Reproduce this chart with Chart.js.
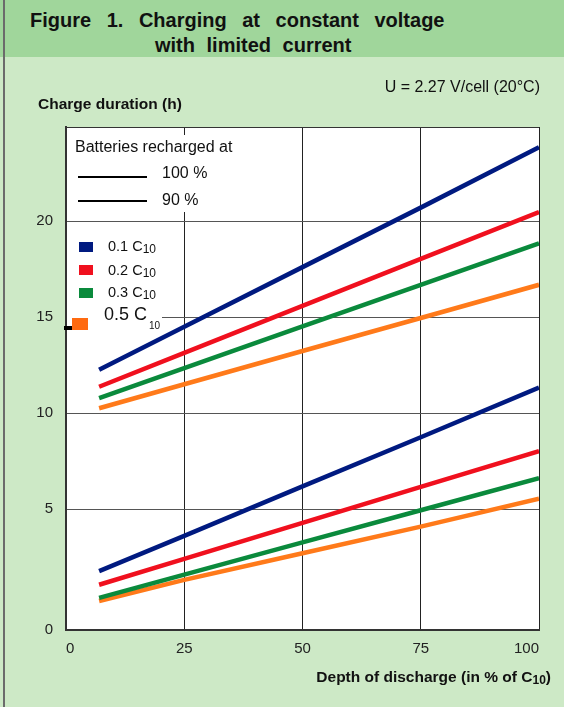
<!doctype html>
<html lang="en">
<head>
  <meta charset="utf-8">
  <title>Figure 1. Charging at constant voltage with limited current</title>
  <style>
* {
  margin: 0;
  padding: 0;
  font-family: "Liberation Sans", Arial, sans-serif;
  color: #111;
}
body {
  width: 564px;
  height: 707px;
  position: relative;
  overflow: hidden;
  background: #cde9c6;
}
.band {
  position: absolute;
  left: 0; top: 0;
  width: 564px; height: 57px;
  background: #a0d69b;
}
.edge {
  position: absolute;
  left: 3px; top: 0;
  width: 2px; height: 707px;
  background: #6b6b6b;
  z-index: 3;
}
.title {
  position: absolute;
  font-weight: bold;
  font-size: 20px;
  white-space: pre;
  line-height: 24px;
}
canvas {
  position: absolute;
  left: 0; top: 0;
}
.txt {
  position: absolute;
  white-space: pre;
  z-index: 2;
}
.white {
  position: absolute;
  background: #fff;
  z-index: 1;
}
.swatch {
  position: absolute;
  z-index: 2;
}
.rule {
  position: absolute;
  height: 2px;
  background: #000;
  z-index: 2;
}
.sub {
  font-size: 12px;
  position: relative;
  top: 2px;
}
  </style>
</head>
<body>
  <div class="band"></div>
  <div class="edge"></div>
  <div class="title" style="left:30px; top:8px; word-spacing:10px;">Figure 1. Charging at constant voltage</div>
  <div class="title" style="left:155px; top:33px; word-spacing:6px;">with limited current</div>

  <div class="txt" style="right:24px; top:78px; font-size:16px;">U = 2.27 V/cell (20°C)</div>
  <div class="txt" style="left:38px; top:95px; font-size:15.5px; font-weight:bold;">Charge duration (h)</div>

  <canvas id="myChart" width="564" height="707"></canvas>

  <!-- legend: line style -->
  <div class="white" style="left:68px; top:135px; width:180px; height:77px;"></div>
  <div class="txt" style="left:75px; top:138px; font-size:16px;">Batteries recharged at</div>
  <div class="rule" style="left:78px; top:176px; width:69px;"></div>
  <div class="txt" style="left:162px; top:164px; font-size:16px;">100 %</div>
  <div class="rule" style="left:78px; top:200px; width:69px;"></div>
  <div class="txt" style="left:162px; top:191px; font-size:16px;">90 %</div>

  <!-- legend: charge current -->
  <div class="swatch" style="left:79px; top:242px; width:14px; height:10px; background:#001a80;"></div>
  <div class="txt" style="left:108px; top:238px; font-size:14.5px;">0.1 C<span class="sub">10</span></div>
  <div class="swatch" style="left:79px; top:265px; width:14px; height:10px; background:#f0101e;"></div>
  <div class="txt" style="left:108px; top:262px; font-size:14.5px;">0.2 C<span class="sub">10</span></div>
  <div class="swatch" style="left:79px; top:288px; width:14px; height:10px; background:#0a8a3c;"></div>
  <div class="txt" style="left:108px; top:284px; font-size:14.5px;">0.3 C<span class="sub">10</span></div>
  <div class="white" style="left:67px; top:312px; width:95px; height:16px;"></div>
  <div class="txt" style="left:104px; top:304px; font-size:18px;">0.5 C</div>
  <div class="txt" style="left:149px; top:320px; font-size:10px;">10</div>
  <div class="swatch" style="left:72px; top:318px; width:16px; height:12px; background:#ff6a10;"></div>
  <div class="swatch" style="left:64px; top:326px; width:8px; height:4px; background:#000;"></div>

  <div class="txt" style="right:13px; top:668px; font-size:15.5px; font-weight:bold;">Depth of discharge (in % of C<span class="sub">10</span>)</div>

  <script src="https://cdn.jsdelivr.net/npm/chart.js"></script>
  <script>
    // depth of discharge (% of C10) where the curves are read
    const depthOfDischarge = [7, 25, 50, 75, 100];

    // charge duration (h), batteries recharged at 100 %
    const rate01At100 = [12.25, 14.5, 17.6, 20.7, 23.85];
    const rate02At100 = [11.37, 13.13, 15.58, 18.03, 20.47];
    const rate03At100 = [10.78, 12.34, 14.51, 16.67, 18.84];
    const rate05At100 = [10.25, 11.5, 13.23, 14.95, 16.68];

    // charge duration (h), batteries recharged at 90 %
    const rate01At90 = [2.43, 3.89, 6.18, 8.74, 11.32];
    const rate02At90 = [1.87, 2.94, 4.43, 6.15, 8.02];
    const rate03At90 = [1.33, 2.29, 3.62, 4.95, 6.61];
    const rate05At90 = [1.2, 2.07, 3.17, 4.27, 5.54];

    // tick labels
    const xTicks = [0, 25, 50, 75, 100];
    const yTicks = [0, 5, 10, 15, 20];

    // the original figure draws the 0-5 h band taller than the others
    const Y_SPLIT = 5;
    const Y_SPLIT_FRACTION = 121 / 503;

    class SplitLinearScale extends Chart.LinearScale {
      toDecimal(value) {
        if (value <= Y_SPLIT) {
          return (value - this.min) / (Y_SPLIT - this.min) * Y_SPLIT_FRACTION;
        }
        return Y_SPLIT_FRACTION + (value - Y_SPLIT) / (this.max - Y_SPLIT) * (1 - Y_SPLIT_FRACTION);
      }
      getPixelForValue(value) {
        return value === null ? NaN : this.getPixelForDecimal(this.toDecimal(value));
      }
      getValueForPixel(pixel) {
        const d = this.getDecimalForPixel(pixel);
        if (d <= Y_SPLIT_FRACTION) {
          return this.min + d / Y_SPLIT_FRACTION * (Y_SPLIT - this.min);
        }
        return Y_SPLIT + (d - Y_SPLIT_FRACTION) / (1 - Y_SPLIT_FRACTION) * (this.max - Y_SPLIT);
      }
    }
    SplitLinearScale.id = 'splitLinear';
    SplitLinearScale.defaults = Chart.LinearScale.defaults;
    Chart.register(SplitLinearScale);

    const colors = { c01: '#001a80', c02: '#f0101e', c03: '#0a8a3c', c05: '#ff7a1a' };

    function series(label, values, color) {
      return {
        label: label,
        data: depthOfDischarge.map((x, i) => ({ x: x, y: values[i] })),
        borderColor: color,
        backgroundColor: color,
        borderWidth: 4.5,
        pointRadius: 0,
        tension: 0,
        fill: false
      };
    }

    // white plot area and the thin frame on top
    const plotFrame = {
      id: 'plotFrame',
      beforeDraw(chart) {
        const { ctx, chartArea: a } = chart;
        ctx.save();
        ctx.fillStyle = '#fff';
        ctx.fillRect(a.left, a.top, a.right - a.left, a.bottom - a.top);
        ctx.restore();
      },
      afterDraw(chart) {
        const { ctx, chartArea: a } = chart;
        ctx.save();
        ctx.strokeStyle = '#333';
        ctx.lineWidth = 1;
        ctx.beginPath();
        ctx.moveTo(a.left, a.top + 0.5);
        ctx.lineTo(a.right, a.top + 0.5);
        ctx.stroke();
        ctx.restore();
      }
    };

    const data = {
      datasets: [
        series('0.1 C10 (100 %)', rate01At100, colors.c01),
        series('0.2 C10 (100 %)', rate02At100, colors.c02),
        series('0.3 C10 (100 %)', rate03At100, colors.c03),
        series('0.5 C10 (100 %)', rate05At100, colors.c05),
        series('0.1 C10 (90 %)', rate01At90, colors.c01),
        series('0.2 C10 (90 %)', rate02At90, colors.c02),
        series('0.3 C10 (90 %)', rate03At90, colors.c03),
        series('0.5 C10 (90 %)', rate05At90, colors.c05)
      ]
    };

    const config = {
      type: 'line',
      data,
      options: {
        responsive: false,
        animation: false,
        devicePixelRatio: 1,
        layout: { padding: { top: 127, right: 25, left: 0, bottom: 0 } },
        plugins: {
          legend: { display: false },
          tooltip: { enabled: false }
        },
        scales: {
          x: {
            type: 'linear',
            min: 0,
            max: 100,
            afterBuildTicks: (scale) => { scale.ticks = xTicks.map(v => ({ value: v })); },
            afterFit: (scale) => { scale.height = 77; },
            grid: { color: '#222', lineWidth: 1, drawTicks: false },
            border: { color: '#333', width: 2 },
            ticks: {
              align: 'inner',
              padding: 10,
              maxRotation: 0,
              color: '#222',
              font: { size: 15, family: 'Liberation Sans' }
            }
          },
          y: {
            type: 'splitLinear',
            min: 0,
            max: 24.9,
            afterBuildTicks: (scale) => { scale.ticks = yTicks.map(v => ({ value: v })); },
            afterFit: (scale) => { scale.width = 66; },
            grid: { color: '#555', lineWidth: 1, drawTicks: false },
            border: { color: '#333', width: 2 },
            ticks: {
              padding: 13,
              color: '#222',
              font: { size: 15, family: 'Liberation Sans' }
            }
          }
        }
      },
      plugins: [plotFrame]
    };

    const myChart = new Chart(document.getElementById('myChart'), config);
  </script>
</body>
</html>
